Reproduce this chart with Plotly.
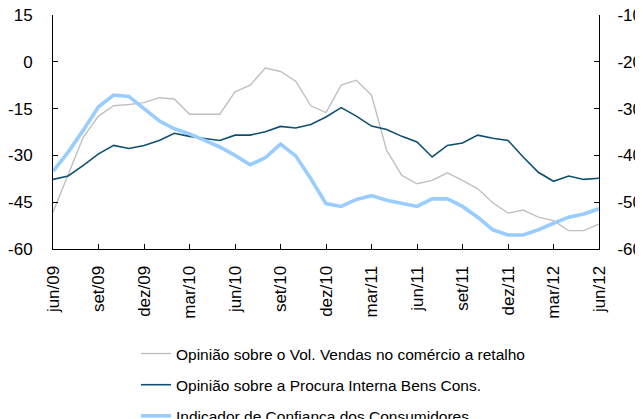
import plotly.graph_objects as go

# ── Data ─────────────────────────────────────────────────────────────────────
months = [
    "jun/09", "jul/09", "ago/09", "set/09", "out/09", "nov/09", "dez/09",
    "jan/10", "fev/10", "mar/10", "abr/10", "mai/10", "jun/10", "jul/10",
    "ago/10", "set/10", "out/10", "nov/10", "dez/10", "jan/11", "fev/11",
    "mar/11", "abr/11", "mai/11", "jun/11", "jul/11", "ago/11", "set/11",
    "out/11", "nov/11", "dez/11", "jan/12", "fev/12", "mar/12", "abr/12",
    "mai/12", "jun/12",
]
tick_months = months[::3]

# left axis
vendas_retalho = [
    -48.2, -35.9, -24.1, -17.4, -14.1, -13.7, -13.1, -11.5, -11.9, -16.8,
    -16.8, -16.8, -9.6, -7.5, -2.0, -3.1, -6.2, -14.1, -16.3, -7.5,
    -5.9, -10.7, -28.4, -36.4, -39.1, -38.0, -35.6, -38.0, -40.7, -45.2,
    -48.5, -47.5, -49.8, -50.9, -54.1, -54.1, -52.0,
]
procura_interna = [
    -37.7, -36.6, -33.2, -29.5, -26.8, -27.8, -26.8, -25.2, -22.9, -23.9,
    -24.6, -25.2, -23.5, -23.5, -22.4, -20.7, -21.2, -20.1, -17.7, -14.7,
    -17.4, -20.6, -21.7, -23.9, -25.7, -30.5, -26.8, -26.0, -23.5, -24.5,
    -25.2, -30.5, -35.4, -38.3, -36.6, -37.7, -37.3,
]
# right axis
confianca_consumidores = [
    -43.4, -39.3, -34.6, -29.6, -27.1, -27.4, -30.0, -32.6, -34.3, -35.4,
    -36.8, -38.2, -40.0, -42.0, -40.5, -37.6, -40.1, -45.0, -50.3, -50.9,
    -49.4, -48.6, -49.6, -50.3, -50.9, -49.3, -49.3, -50.9, -53.2, -55.9,
    -57.0, -57.0, -55.9, -54.5, -53.2, -52.5, -51.4,
]

left_ticks = [15, 0, -15, -30, -45, -60]
right_ticks = [-10, -20, -30, -40, -50, -60]

# ── Figure ───────────────────────────────────────────────────────────────────
fig = go.Figure()

fig.add_trace(go.Scatter(
    x=months, y=vendas_retalho, mode="lines", legendgroup="a",
    name="Opinião sobre o Vol. Vendas no comércio a retalho",
    line=dict(color="#C0C0C0", width=1.4),
))
fig.add_trace(go.Scatter(
    x=months, y=procura_interna, mode="lines", legendgroup="b",
    name="Opinião sobre a Procura Interna Bens Cons.",
    line=dict(color="#0F5070", width=1.6),
))
fig.add_trace(go.Scatter(
    x=months, y=confianca_consumidores, mode="lines", legendgroup="c",
    name="Indicador de Confianca dos Consumidores", yaxis="y2",
    line=dict(color="#99CCFF", width=3.6),
))

FONT = "Liberation Sans, Arial, sans-serif"
tick_font = dict(family=FONT, size=17, color="black")

common = dict(
    showline=True, linecolor="black", linewidth=1,
    ticks="inside", ticklen=5, tickcolor="black",
    showgrid=False, zeroline=False, automargin=False, tickfont=tick_font,
    ticklabeloverflow="allow",
)

# the page body adds an 8px margin, so the figure is offset to compensate;
# it is made taller than the window so the legend never pushes the margins
fig.update_layout(
    width=643, height=450,
    margin=dict(l=45, r=52, t=7, b=209),
    plot_bgcolor="white", paper_bgcolor="white",
    font=dict(family=FONT, color="black"),
    showlegend=True,
    legend=dict(
        x=0.152, xanchor="left", y=-0.376, yanchor="top",
        orientation="v", tracegroupgap=8,
        font=dict(family=FONT, size=15.5, color="black"),
        bgcolor="rgba(0,0,0,0)",
    ),
    xaxis=dict(
        type="category", range=[0, len(months) - 1],
        tickvals=tick_months, ticktext=tick_months, tickangle=-90,
        ticklabelstandoff=9, **common,
    ),
    yaxis=dict(
        range=[-60, 15], tickvals=left_ticks,
        ticktext=[str(v) for v in left_ticks],
        ticklabelstandoff=16, **common,
    ),
    yaxis2=dict(
        range=[-60, -10], tickvals=right_ticks,
        ticktext=[str(v) for v in right_ticks],
        overlaying="y", side="right",
        ticklabelstandoff=14, **common,
    ),
)

fig.write_html("out.html")
